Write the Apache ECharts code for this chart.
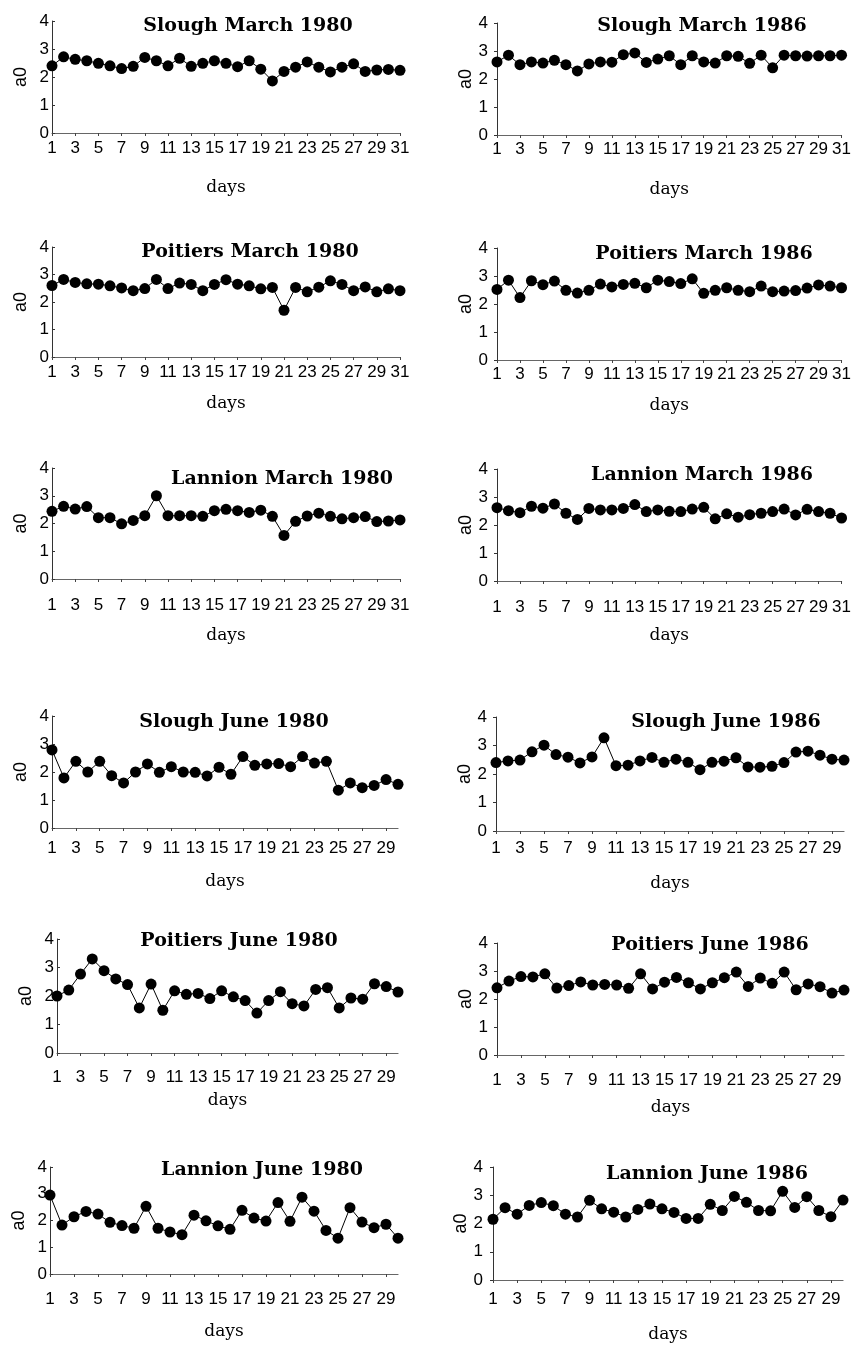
<!DOCTYPE html>
<html><head><meta charset="utf-8">
<script src="https://cdn.jsdelivr.net/npm/echarts@6/dist/echarts.min.js"></script>
<style>html,body{margin:0;padding:0;background:#fff}#c{width:854px;height:1345px}</style>
</head><body><div id="c"></div>
<script>
const marchDays = ['1','2','3','4','5','6','7','8','9','10','11','12','13','14','15','16','17','18','19','20','21','22','23','24','25','26','27','28','29','30','31'];
const juneDays = ['1','2','3','4','5','6','7','8','9','10','11','12','13','14','15','16','17','18','19','20','21','22','23','24','25','26','27','28','29','30'];

const sloughMarch1980 = [2.40,2.72,2.63,2.58,2.49,2.40,2.30,2.38,2.70,2.58,2.40,2.67,2.38,2.49,2.58,2.49,2.37,2.58,2.28,1.86,2.20,2.35,2.54,2.35,2.18,2.35,2.47,2.20,2.25,2.27,2.24];
const sloughMarch1986 = [2.61,2.85,2.51,2.61,2.57,2.67,2.51,2.29,2.54,2.61,2.60,2.87,2.93,2.59,2.71,2.83,2.51,2.83,2.61,2.57,2.83,2.81,2.56,2.85,2.40,2.85,2.83,2.82,2.83,2.83,2.85];
const poitiersMarch1980 = [2.60,2.82,2.71,2.66,2.65,2.59,2.51,2.41,2.49,2.82,2.49,2.69,2.64,2.41,2.64,2.81,2.65,2.59,2.48,2.53,1.70,2.53,2.37,2.54,2.77,2.64,2.41,2.55,2.37,2.48,2.41];
const poitiersMarch1986 = [2.52,2.85,2.23,2.83,2.69,2.82,2.49,2.39,2.49,2.71,2.61,2.70,2.74,2.58,2.85,2.80,2.73,2.90,2.38,2.49,2.58,2.49,2.44,2.64,2.44,2.46,2.48,2.57,2.68,2.64,2.58];
const lannionMarch1980 = [2.44,2.62,2.52,2.61,2.21,2.21,1.99,2.11,2.28,3.00,2.28,2.28,2.28,2.26,2.46,2.51,2.46,2.40,2.48,2.26,1.57,2.08,2.27,2.37,2.26,2.17,2.21,2.25,2.07,2.09,2.13];
const lannionMarch1986 = [2.62,2.51,2.44,2.67,2.60,2.75,2.42,2.20,2.59,2.54,2.54,2.59,2.73,2.48,2.54,2.49,2.48,2.57,2.63,2.22,2.40,2.28,2.37,2.42,2.48,2.57,2.36,2.56,2.48,2.42,2.25];
const sloughJune1980 = [2.79,1.79,2.38,2.00,2.38,1.87,1.61,2.00,2.29,1.99,2.19,2.00,1.99,1.86,2.17,1.92,2.55,2.24,2.29,2.30,2.19,2.55,2.32,2.38,1.35,1.61,1.44,1.52,1.73,1.56];
const sloughJune1986 = [2.40,2.46,2.49,2.78,3.01,2.68,2.59,2.39,2.60,3.27,2.29,2.31,2.46,2.58,2.41,2.52,2.41,2.15,2.41,2.45,2.57,2.25,2.24,2.27,2.40,2.77,2.80,2.66,2.52,2.49];
const poitiersJune1980 = [2.00,2.21,2.77,3.30,2.89,2.60,2.40,1.58,2.42,1.50,2.18,2.06,2.09,1.91,2.18,1.97,1.84,1.40,1.84,2.15,1.73,1.65,2.23,2.29,1.58,1.93,1.89,2.43,2.33,2.14];
const poitiersJune1986 = [2.40,2.64,2.80,2.79,2.90,2.39,2.48,2.61,2.50,2.52,2.50,2.38,2.90,2.36,2.60,2.77,2.58,2.36,2.58,2.76,2.96,2.45,2.75,2.56,2.96,2.33,2.54,2.44,2.21,2.32];
const lannionJune1980 = [2.95,1.83,2.14,2.34,2.24,1.93,1.81,1.71,2.53,1.71,1.57,1.47,2.20,1.99,1.80,1.67,2.38,2.09,1.98,2.67,1.97,2.87,2.35,1.63,1.34,2.48,1.94,1.73,1.86,1.34];
const lannionJune1986 = [2.15,2.56,2.33,2.64,2.74,2.63,2.33,2.23,2.82,2.52,2.40,2.23,2.50,2.69,2.52,2.39,2.18,2.18,2.68,2.46,2.96,2.75,2.46,2.45,3.14,2.57,2.95,2.46,2.24,2.83];

const yMin = 0, yMax = 4, yStep = 1;
const xName = 'days';
const yName = 'a0';

const panels = [
  {title: 'Slough March 1980', days: marchDays, values: sloughMarch1980},
  {title: 'Slough March 1986', days: marchDays, values: sloughMarch1986},
  {title: 'Poitiers March 1980', days: marchDays, values: poitiersMarch1980},
  {title: 'Poitiers March 1986', days: marchDays, values: poitiersMarch1986},
  {title: 'Lannion March 1980', days: marchDays, values: lannionMarch1980},
  {title: 'Lannion March 1986', days: marchDays, values: lannionMarch1986},
  {title: 'Slough June 1980', days: juneDays, values: sloughJune1980},
  {title: 'Slough June 1986', days: juneDays, values: sloughJune1986},
  {title: 'Poitiers June 1980', days: juneDays, values: poitiersJune1980},
  {title: 'Poitiers June 1986', days: juneDays, values: poitiersJune1986},
  {title: 'Lannion June 1980', days: juneDays, values: lannionJune1980},
  {title: 'Lannion June 1986', days: juneDays, values: lannionJune1986}
];

// layout: plot box (x0..x1, y4 top .. y0 bottom), title centre, label offset, days offset, y-label margin, y tick inside
const layout = [
  {x0:52, x1:400, y4:21,  y0:133,  tx:248, ty:26,   lab:14, dn:55, ym:3, tin:true},
  {x0:497,x1:844, y4:23,  y0:135,  tx:702, ty:26,   lab:13, dn:55, ym:9, tin:false},
  {x0:52, x1:400, y4:247, y0:357,  tx:250, ty:252,  lab:14, dn:47, ym:3, tin:true},
  {x0:497,x1:844, y4:248, y0:360,  tx:704, ty:254,  lab:13, dn:46, ym:9, tin:false},
  {x0:52, x1:400, y4:468, y0:579,  tx:282, ty:479,  lab:25, dn:57, ym:3, tin:true},
  {x0:497,x1:844, y4:469, y0:581,  tx:702, ty:475,  lab:25, dn:55, ym:9, tin:false},
  {x0:52, x1:398, y4:716, y0:828,  tx:234, ty:722,  lab:19, dn:54, ym:3, tin:true},
  {x0:496,x1:844, y4:717, y0:831,  tx:726, ty:722,  lab:16, dn:53, ym:9, tin:false},
  {x0:57, x1:398, y4:939, y0:1053, tx:239, ty:941,  lab:23, dn:48, ym:3, tin:true},
  {x0:497,x1:844, y4:943, y0:1055, tx:710, ty:945,  lab:24, dn:53, ym:9, tin:false},
  {x0:50, x1:398, y4:1167,y0:1274, tx:262, ty:1170, lab:24, dn:58, ym:3, tin:true},
  {x0:493,x1:843, y4:1167,y0:1280, tx:707, ty:1174, lab:18, dn:55, ym:10, tin:false}
];

const sansFont = '"Liberation Sans", Arial, sans-serif';
const serifFont = '"DejaVu Serif", serif';

const grid = [], xAxis = [], yAxis = [], series = [], graphic = [];
panels.forEach((p, i) => {
  const L = layout[i];
  grid.push({left: L.x0, top: L.y4, width: L.x1 - L.x0, height: L.y0 - L.y4, containLabel: false});
  xAxis.push({
    type: 'category', gridIndex: i, data: p.days, boundaryGap: false,
    name: xName, nameLocation: 'middle', nameGap: L.dn - 9,
    nameTextStyle: {fontFamily: serifFont, fontSize: 17, color: '#000'},
    axisLine: {show: true, onZero: false, lineStyle: {color: '#666', width: 1.2}},
    axisTick: {show: true, interval: 1, length: 3, lineStyle: {color: '#444'}},
    axisLabel: {interval: 1, margin: L.lab - 7.5, fontFamily: sansFont, fontSize: 17, color: '#000'},
    splitLine: {show: false}
  });
  yAxis.push({
    type: 'value', gridIndex: i, min: yMin, max: yMax, interval: yStep,
    name: yName, nameLocation: 'middle', nameGap: 22,
    nameTextStyle: {fontFamily: sansFont, fontSize: 18, color: '#000'},
    axisLine: {show: true, lineStyle: {color: '#333', width: 1}},
    axisTick: {show: true, inside: L.tin, length: 3, lineStyle: {color: '#333'}},
    axisLabel: {margin: L.ym, fontFamily: sansFont, fontSize: 17, color: '#000'},
    splitLine: {show: false}
  });
  series.push({
    type: 'line', xAxisIndex: i, yAxisIndex: i, data: p.values,
    symbol: 'circle', symbolSize: 11, showAllSymbol: true,
    itemStyle: {color: '#000'}, lineStyle: {color: '#000', width: 1},
    emphasis: {disabled: true}, silent: true
  });
  graphic.push({
    type: 'text', x: L.tx, y: L.ty, silent: true,
    style: {text: p.title, align: 'center', verticalAlign: 'middle',
            font: 'bold 19px ' + serifFont, fill: '#000'}
  });
});

const chart = echarts.init(document.getElementById('c'), null, {renderer: 'canvas'});
chart.setOption({
  backgroundColor: '#fff', animation: false,
  grid, xAxis, yAxis, series, graphic
});
</script>
</body></html>
